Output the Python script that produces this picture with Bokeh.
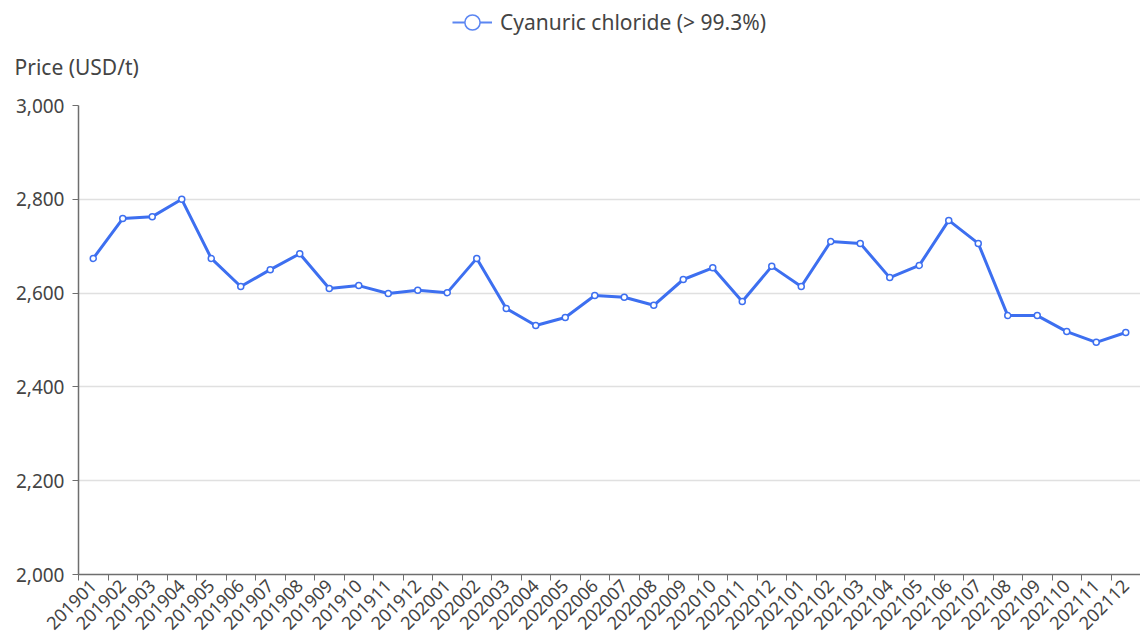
from bokeh.plotting import figure
from bokeh.layouts import column
from bokeh.models import (ColumnDataSource, Legend, LegendItem, FixedTicker, Title,
                          NumeralTickFormatter, Range1d)
from bokeh.embed import file_html
from bokeh.resources import INLINE

months = ["201901", "201902", "201903", "201904", "201905", "201906", "201907", "201908",
          "201909", "201910", "201911", "201912", "202001", "202002", "202003", "202004",
          "202005", "202006", "202007", "202008", "202009", "202010", "202011", "202012",
          "202101", "202102", "202103", "202104", "202105", "202106", "202107", "202108",
          "202109", "202110", "202111", "202112"]
price = [2674, 2759, 2763, 2800, 2674, 2614, 2650, 2684,
         2610, 2616, 2599, 2606, 2601, 2674, 2567, 2531,
         2548, 2595, 2591, 2574, 2629, 2654, 2582, 2657,
         2614, 2710, 2706, 2633, 2659, 2755, 2706, 2552,
         2552, 2518, 2495, 2516]
series_name = "Cyanuric chloride (> 99.3%)"
y_label = "Price (USD/t)"
y_ticks = [2000, 2200, 2400, 2600, 2800, 3000]

FONT = "Noto Sans"
BLUE = "#3d6ff0"
KEY_BLUE = "#5b86f2"
TXT = "#444444"
W = 1140

idx = list(range(len(months)))
src = ColumnDataSource(dict(x=idx, y=price, m=months))

# ---- top strip: legend (in its frame) + y-axis caption (below its frame) ----
lf = figure(width=W, height=90, output_backend="svg", toolbar_location=None,
            x_range=Range1d(0, 1), y_range=Range1d(0, 1),
            x_axis_type=None, y_axis_type=None,
            min_border_left=78, min_border_right=0, min_border_top=0, min_border_bottom=46)
lf.outline_line_color = None
lf.xgrid.visible = False
lf.ygrid.visible = False
kl = lf.line("x", "y", source=src, line_color=KEY_BLUE, line_width=2)
kp = lf.scatter("x", "y", source=src, marker="circle", fill_color="white",
                line_color=KEY_BLUE, line_width=1.5)
legend = Legend(items=[LegendItem(label=series_name, renderers=[kl, kp])],
                location="center", orientation="horizontal",
                border_line_color=None, background_fill_alpha=0,
                padding=0, margin=0, glyph_width=40, glyph_height=38,
                label_standoff=8, label_text_font=FONT, label_text_font_size="21px",
                label_text_color=TXT)
lf.add_layout(legend, "center")
lf.add_layout(Title(text=y_label, align="left", offset=-64, text_font=FONT,
                    text_font_size="21px", text_font_style="normal", text_color=TXT,
                    standoff=12), "below")

# ---- main chart ----
p = figure(width=W, height=550, output_backend="svg", toolbar_location=None,
           x_range=Range1d(-0.5, len(months) - 0.5), y_range=Range1d(2000, 3000),
           min_border_left=78, min_border_right=0, min_border_top=15, min_border_bottom=66)
p.title = None
p.outline_line_color = None
p.background_fill_color = "white"

line = p.line("x", "y", source=src, line_color=BLUE, line_width=3)
pts = p.scatter("x", "y", source=src, size=6, marker="circle", fill_color="white",
                line_color=BLUE, line_width=1.5)

xa = p.xaxis[0]
xa.ticker = FixedTicker(ticks=idx, minor_ticks=[i - 0.5 for i in range(len(months) + 1)])
xa.major_label_overrides = {i: m for i, m in enumerate(months)}
xa.major_label_orientation = 0.785398
xa.major_tick_out = 0
xa.major_tick_in = 0
xa.minor_tick_out = 6
xa.minor_tick_in = 0
xa.minor_tick_line_color = "#6e6e6e"
xa.axis_line_color = "#6e6e6e"
xa.axis_line_width = 1.5
xa.major_label_text_font = FONT
xa.major_label_text_font_size = "18px"
xa.major_label_text_color = TXT
xa.major_label_standoff = 2
p.xgrid.grid_line_color = None

ya = p.yaxis[0]
ya.ticker = FixedTicker(ticks=y_ticks)
ya.formatter = NumeralTickFormatter(format="0,0")
ya.major_tick_out = 6
ya.major_tick_in = 0
ya.minor_tick_line_color = None
ya.major_tick_line_color = "#6e6e6e"
ya.axis_line_color = "#6e6e6e"
ya.axis_line_width = 1.5
ya.major_label_text_font = FONT
ya.major_label_text_font_size = "19px"
ya.major_label_text_color = TXT
ya.major_label_standoff = 8
p.ygrid.grid_line_color = "#e0e0e0"
p.ygrid.grid_line_width = 1.5
p.ygrid.ticker = FixedTicker(ticks=y_ticks)

layout = column(lf, p, spacing=0)
open("out.html", "w").write(file_html(layout, INLINE))
